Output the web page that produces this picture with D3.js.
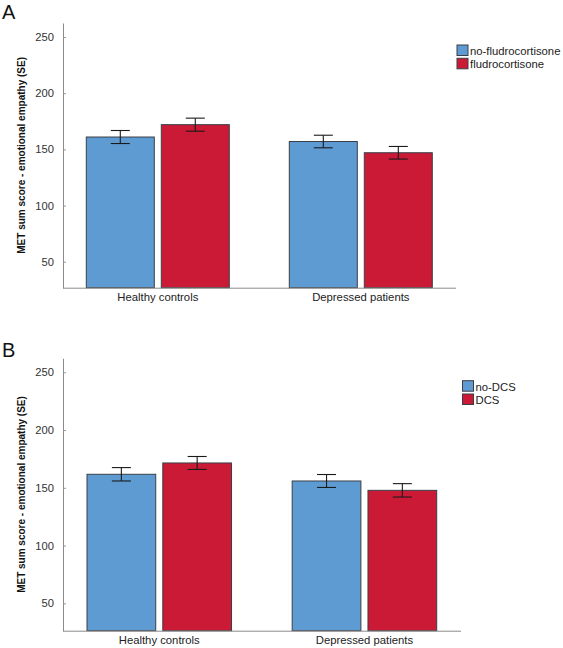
<!DOCTYPE html>
<html>
<head>
<meta charset="utf-8">
<script src="https://cdn.jsdelivr.net/npm/d3@7"></script>
<style>
  html, body { margin: 0; padding: 0; background: #fff; }
  svg { display: block; font-family: "Liberation Sans", Arial, sans-serif; }
</style>
</head>
<body>
<svg id="chart" width="563" height="648"></svg>
<script>
// ---- data ----
const groups = ["Healthy controls", "Depressed patients"];
const yTicks = [50, 100, 150, 200, 250];
const yLabel = "MET sum score - emotional empathy (SE)";

const seriesA = ["no-fludrocortisone", "fludrocortisone"];
const meansA_no = [161, 157];
const meansA_yes = [172, 147];
const seA_no = [5.8, 5.6];
const seA_yes = [5.8, 5.6];

const seriesB = ["no-DCS", "DCS"];
const meansB_no = [161.7, 155.9];
const meansB_yes = [171.5, 147.8];
const seB_no = [5.8, 5.6];
const seB_yes = [5.6, 5.8];

const colors = ["#5E9BD3", "#CB1A36"];

const svg = d3.select("#chart");

function panel(cfg) {
  const g = svg.append("g");
  const y = d3.scaleLinear().domain(cfg.yDomain).range([cfg.bottom, cfg.top]);
  const x0 = d3.scaleBand().domain(groups).range(cfg.barRange).paddingInner(0.2956).paddingOuter(0);
  const x1 = d3.scaleBand().domain(cfg.series).range([0, x0.bandwidth()]).paddingInner(0.0933).paddingOuter(0);

  const rows = [];
  groups.forEach((grp, i) => {
    cfg.series.forEach((s, j) => {
      rows.push({ grp, s, j, mean: cfg.means[j][i], se: cfg.ses[j][i] });
    });
  });

  // bars
  g.selectAll("rect.bar").data(rows).join("rect")
    .attr("class", "bar")
    .attr("x", d => x0(d.grp) + x1(d.s))
    .attr("width", x1.bandwidth())
    .attr("y", d => y(d.mean))
    .attr("height", d => y(cfg.yDomain[0]) - y(d.mean))
    .attr("fill", d => colors[d.j])
    .attr("stroke", "#3a3f47")
    .attr("stroke-width", 1);

  // error bars
  const capW = 19;
  const eb = g.selectAll("g.eb").data(rows).join("g").attr("class", "eb")
    .attr("transform", d => `translate(${x0(d.grp) + x1(d.s) + x1.bandwidth() / 2},0)`);
  eb.append("line").attr("x1", 0).attr("x2", 0)
    .attr("y1", d => y(d.mean + d.se)).attr("y2", d => y(d.mean - d.se))
    .attr("stroke", "#1a1a1a").attr("stroke-width", 1.1);
  eb.append("line").attr("x1", -capW / 2).attr("x2", capW / 2)
    .attr("y1", d => y(d.mean + d.se)).attr("y2", d => y(d.mean + d.se))
    .attr("stroke", "#1a1a1a").attr("stroke-width", 1.1);
  eb.append("line").attr("x1", -capW / 2).attr("x2", capW / 2)
    .attr("y1", d => y(d.mean - d.se)).attr("y2", d => y(d.mean - d.se))
    .attr("stroke", "#1a1a1a").attr("stroke-width", 1.1);

  // y axis
  const ya = g.append("g").attr("transform", `translate(${cfg.axisX},0)`)
    .call(d3.axisLeft(y).tickValues(yTicks).tickSizeInner(-3).tickSizeOuter(0).tickPadding(9));
  ya.select(".domain").attr("stroke", "#8a8a8a");
  ya.selectAll(".tick line").attr("stroke", "#9a9a9a");
  ya.selectAll(".tick text").attr("font-size", 11.2).attr("fill", "#333")
    .attr("font-family", "Liberation Sans, Arial, sans-serif");

  // x axis line
  g.append("line").attr("x1", cfg.axisX).attr("x2", cfg.axisXEnd)
    .attr("y1", cfg.bottom + 0.5).attr("y2", cfg.bottom + 0.5)
    .attr("stroke", "#8a8a8a").attr("stroke-width", 1);

  // category labels
  g.selectAll("text.cat").data(groups).join("text").attr("class", "cat")
    .attr("x", d => x0(d) + x0.bandwidth() / 2)
    .attr("y", cfg.bottom + 13.5)
    .attr("text-anchor", "middle")
    .attr("font-size", 11.3).attr("fill", "#222")
    .text(d => d);

  // y label
  g.append("text")
    .attr("transform", `translate(${cfg.labelX},${(cfg.top + cfg.bottom) / 2}) rotate(-90)`)
    .attr("text-anchor", "middle")
    .attr("font-size", 10).attr("font-weight", "bold").attr("fill", "#111")
    .text(yLabel);

  // panel letter
  g.append("text").attr("x", cfg.letterX).attr("y", cfg.letterY)
    .attr("font-size", 20).attr("fill", "#111").text(cfg.letter);

  // legend
  const lg = g.append("g").attr("transform", `translate(${cfg.legendX},${cfg.legendY})`);
  cfg.series.forEach((s, j) => {
    lg.append("rect").attr("x", 0).attr("y", j * 13.3).attr("width", 11).attr("height", 10.5)
      .attr("fill", colors[j]).attr("stroke", "#3a3f47").attr("stroke-width", 1);
    lg.append("text").attr("x", 13).attr("y", j * 13.3 + 9.8)
      .attr("font-size", 11.3).attr("fill", "#222").text(s);
  });
}

panel({
  letter: "A", letterX: 2, letterY: 19,
  series: seriesA, means: [meansA_no, meansA_yes], ses: [seA_no, seA_yes],
  yDomain: [26.86, 262.5], top: 23, bottom: 287.7,
  barRange: [86.3, 432.3], axisX: 63, axisXEnd: 456,
  labelX: 25, legendX: 457, legendY: 45
});

panel({
  letter: "B", letterX: 2, letterY: 357,
  series: seriesB, means: [meansB_no, meansB_yes], ses: [seB_no, seB_yes],
  yDomain: [26.3, 262.1], top: 358.3, bottom: 630.7,
  barRange: [87, 436.7], axisX: 63, axisXEnd: 461,
  labelX: 25, legendX: 462.5, legendY: 380.7
});
</script>
</body>
</html>
